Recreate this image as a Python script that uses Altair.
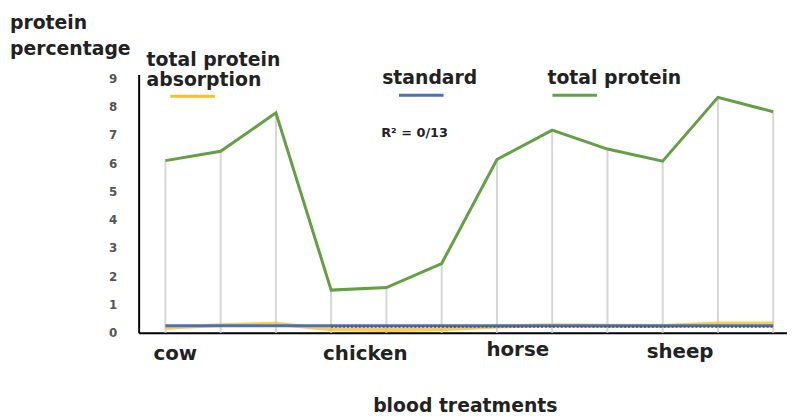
import altair as alt
import pandas as pd

samples = list(range(1, 13))
total_protein = [6.09, 6.42, 7.78, 1.51, 1.60, 2.45, 6.13, 7.17, 6.50, 6.07, 8.33, 7.82]
absorption = [0.18, 0.27, 0.32, 0.12, 0.10, 0.12, 0.22, 0.27, 0.25, 0.24, 0.33, 0.33]
standard = [0.25] * 12
trend_idx = list(range(4, 13))
trend = [0.21] * 9
groups = ["cow", "chicken", "horse", "sheep"]
y_ticks = list(range(0, 10))

FONT = "DejaVu Sans"
TXT = "#222222"
GREEN = "#62a043"
YELLOW = "#f5c22a"
BLUE = "#4a6fbd"

df = pd.DataFrame({"i": samples, "tp": total_protein, "ab": absorption, "st": standard})
tdf = pd.DataFrame({"i": trend_idx, "v": trend})

xs = alt.Scale(domain=[0.516, 12.25], nice=False, zero=False)
ys = alt.Scale(domain=[0, 9.14], nice=False)
x_axis = alt.Axis(title=None, labels=False, ticks=False, grid=False, domainColor="black", domainWidth=2)
y_axis = alt.Axis(values=y_ticks, title=None, grid=False, ticks=False, domainColor="black", domainWidth=2,
                  labelColor="#555555", labelFont=FONT, labelFontSize=12, labelFontWeight="bold",
                  labelPadding=22)


def X():
    return alt.X("i:Q", scale=xs, axis=x_axis)


def Y(f):
    return alt.Y(f + ":Q", scale=ys, axis=y_axis)


base = alt.Chart(df)

drops = base.mark_rule(color="#d6d6d6", strokeWidth=2).encode(x=X(), y=Y("tp"), y2=alt.datum(0))
green = base.mark_line(color=GREEN, strokeWidth=3).encode(x=X(), y=Y("tp"))
yellow = base.mark_line(color=YELLOW, strokeWidth=4, opacity=0.8).encode(x=X(), y=Y("ab"))
blue = base.mark_line(color=BLUE, strokeWidth=3).encode(x=X(), y=Y("st"))
trendline = alt.Chart(tdf).mark_line(color="#555555", strokeWidth=2, strokeDash=[2, 2]).encode(
    x=X(), y=Y("v"))


def txt(s, x, y, size=19, align="left", weight="bold"):
    return alt.Chart(pd.DataFrame({"t": [s]})).mark_text(
        font=FONT, fontSize=size, fontWeight=weight, color=TXT, align=align, baseline="alphabetic"
    ).encode(x=alt.value(x), y=alt.value(y), text="t:N")


def leg(color, x1, x2, y):
    return alt.Chart(pd.DataFrame({"a": [0]})).mark_rule(color=color, strokeWidth=3).encode(
        x=alt.value(x1), x2=alt.value(x2), y=alt.value(y))


ann = [
    txt("protein", -130, -46),
    txt("percentage", -130, -20),
    txt("total protein", 8, -9),
    txt("absorption", 8, 12),
    txt("standard", 246, 10),
    txt("total protein", 413, 10),
    txt("R² = 0/13", 245, 63, size=13),
    txt(groups[0], 37, 289, size=20, align="center"),
    txt(groups[1], 229, 289, size=20, align="center"),
    txt(groups[2], 383, 284, size=20, align="center"),
    txt(groups[3], 547, 286, size=20, align="center"),
    txt("blood treatments", 330, 341, size=19, align="center"),
    leg(YELLOW, 32, 77, 22),
    leg(BLUE, 263, 308, 21),
    leg(GREEN, 418, 463, 21),
]

chart = alt.layer(drops, green, yellow, blue, trendline, *ann).properties(
    width=655, height=261,
    padding={"left": 132, "top": 65, "right": 0, "bottom": 85},
    autosize=alt.AutoSizeParams(type="none"),
).configure_view(stroke=None)

chart.save("out.html", embed_options={"renderer": "svg", "actions": False})
